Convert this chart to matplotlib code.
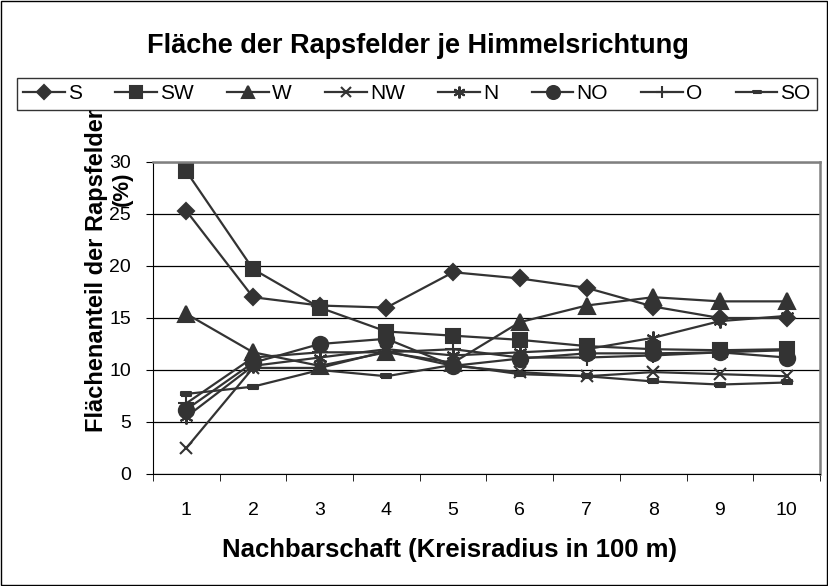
import numpy as np
import matplotlib.pyplot as plt
from matplotlib.patches import Rectangle

plt.rcParams['font.family'] = ['Liberation Sans', 'DejaVu Sans']

# Nachbarschaft (Kreisradius in 100 m)
radius = [1, 2, 3, 4, 5, 6, 7, 8, 9, 10]

# Flächenanteil der Rapsfelder (%) je Himmelsrichtung
s_vals = [25.3, 17.0, 16.2, 16.0, 19.4, 18.8, 17.9, 16.1, 15.0, 15.0]
sw_vals = [29.1, 19.7, 16.0, 13.7, 13.3, 12.9, 12.3, 12.0, 11.9, 12.0]
w_vals = [15.4, 11.7, 10.4, 11.7, 10.7, 14.6, 16.2, 17.0, 16.6, 16.6]
nw_vals = [2.5, 10.2, 10.2, 11.8, 10.4, 9.8, 9.4, 9.8, 9.6, 9.4]
n_vals = [5.5, 10.4, 11.2, 12.0, 11.4, 11.7, 12.0, 13.1, 14.7, 15.2]
no_vals = [6.2, 10.7, 12.5, 13.0, 10.4, 11.1, 11.6, 11.6, 11.7, 11.2]
o_vals = [6.8, 11.2, 11.7, 11.7, 12.0, 11.2, 11.2, 11.4, 11.7, 11.9]
so_vals = [7.7, 8.4, 10.0, 9.4, 10.5, 9.6, 9.4, 8.9, 8.6, 8.8]

names = ['S', 'SW', 'W', 'NW', 'N', 'NO', 'O', 'SO']
series = [s_vals, sw_vals, w_vals, nw_vals, n_vals, no_vals, o_vals, so_vals]

dash = [(-1, -0.35), (1, -0.35), (1, 0.35), (-1, 0.35), (-1, -0.35)]
markers = ['D', 's', '^', 'x', (6, 2, 0), 'o', '+', dash]
msizes = [8, 10.5, 11, 9, 10, 11, 11, 7]

col = '#333333'
W, H = 829, 586

fig = plt.figure(figsize=(8.29, 5.86), dpi=100)
ax = fig.add_axes([153 / W, 1 - 474 / H, (820 - 153) / W, (474 - 162) / H])

for vals, name, m, ms in zip(series, names, markers, msizes):
    ax.plot(radius, vals, color=col, lw=1.6, marker=m, ms=ms,
            mfc=col, mec=col, mew=1.5, label=name)

ax.set_xlim(0.5, 10.5)
ax.set_ylim(0, 30)
ax.set_yticks(range(0, 31, 5))
ax.set_xticks(radius)
ax.set_xticks(np.arange(0.5, 11, 1), minor=True)
ax.tick_params(axis='x', which='major', length=0, labelsize=14, pad=20)
ax.tick_params(axis='x', which='minor', length=5, direction='out', color='black')
ax.tick_params(axis='y', length=5, direction='out', labelsize=14, pad=11)
ax.grid(axis='y', color='black', lw=0.9)
ax.set_axisbelow(True)
for side in ['top', 'right']:
    ax.spines[side].set_color('#808080')
    ax.spines[side].set_linewidth(1.8)
ax.spines['left'].set_color('black')
ax.spines['bottom'].set_color('black')

# Achsentitel
fig.text(97 / W, 1 - 271 / H, 'Flächenanteil der Rapsfelder', rotation=90,
         ha='center', va='center', fontsize=17, fontweight='bold')
fig.text(122 / W, 1 - 189 / H, '(%)', rotation=90,
         ha='center', va='center', fontsize=16, fontweight='bold')
fig.text(450 / W, 1 - 550 / H, 'Nachbarschaft (Kreisradius in 100 m)',
         ha='center', va='center', fontsize=18.5, fontweight='bold')

fig.text(418 / W, 1 - 46 / H, 'Fläche der Rapsfelder je Himmelsrichtung',
         ha='center', va='center', fontsize=19.5, fontweight='bold')

leg = fig.legend(loc='center', ncol=8, bbox_to_anchor=(417 / W, 1 - 94 / H),
                 fontsize=15, frameon=True, fancybox=False, edgecolor='black',
                 handlelength=2.0, columnspacing=1.6, handletextpad=0.15,
                 borderpad=0.3, borderaxespad=0, markerscale=0.85)
leg.get_frame().set_linewidth(1)

fig.patches.append(Rectangle((0.001, 0.001), 0.997, 0.997, transform=fig.transFigure,
                             fill=False, edgecolor='black', lw=1))

fig.savefig('out.png', dpi=100)
